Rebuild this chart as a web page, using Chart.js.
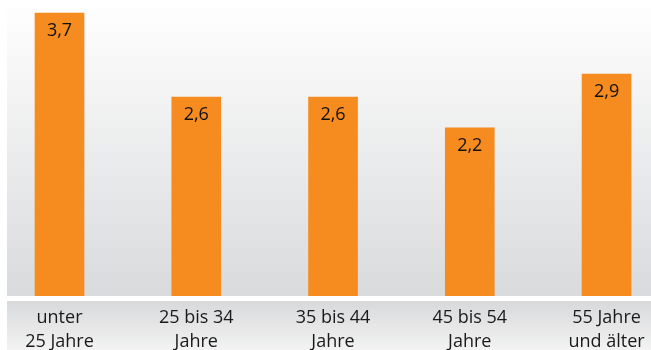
<!DOCTYPE html>
<html>
<head>
<meta charset="utf-8">
<script src="https://cdn.jsdelivr.net/npm/chart.js@4"></script>
<style>
  body { margin: 0; background: #fff; }
  canvas { display: block; }
</style>
</head>
<body>
<canvas id="grafico" width="651" height="350"></canvas>
<script>
// Daten
const kategorien = [
    ['unter', '25 Jahre'],
    ['25 bis 34', 'Jahre'],
    ['35 bis 44', 'Jahre'],
    ['45 bis 54', 'Jahre'],
    ['55 Jahre', 'und älter']
];
const werte = [3.7, 2.6, 2.6, 2.2, 2.9];

const orange = '#f68b1f';

// Hintergrund: Verlauf im Diagrammbereich und graues Band unter der Achse
const hintergrund = {
    id: 'hintergrund',
    beforeDraw(chart) {
        const { ctx, chartArea } = chart;
        ctx.save();
        let g = ctx.createLinearGradient(0, chartArea.top, 0, chartArea.bottom);
        g.addColorStop(0, '#ffffff');
        g.addColorStop(1, '#d9dadc');
        ctx.fillStyle = g;
        ctx.fillRect(chartArea.left, chartArea.top, chart.width - chartArea.left, chartArea.bottom - chartArea.top);

        const top = chartArea.bottom + 5;
        g = ctx.createLinearGradient(0, top, 0, chart.height);
        g.addColorStop(0, '#d8d9db');
        g.addColorStop(1, '#f3f3f3');
        ctx.fillStyle = g;
        ctx.fillRect(chartArea.left, top, chart.width - chartArea.left, chart.height - top);
        ctx.restore();
    }
};

// Werte in die Balken schreiben
const wertBeschriftung = {
    id: 'wertBeschriftung',
    afterDatasetsDraw(chart) {
        const { ctx } = chart;
        const meta = chart.getDatasetMeta(0);
        ctx.save();
        ctx.font = '18px "Open Sans"';
        ctx.fillStyle = '#111111';
        ctx.textAlign = 'center';
        ctx.textBaseline = 'middle';
        meta.data.forEach(function (bar, i) {
            ctx.fillText(werte[i].toFixed(1).replace('.', ','), bar.x, bar.y + 18);
        });
        ctx.restore();
    }
};

function zeichnen() {
    const ctx = document.getElementById('grafico').getContext('2d');

    const chart = new Chart(ctx, {
        type: 'bar',
        data: {
            datasets: [{
                data: werte.map((v, i) => ({ x: i, y: v })),
                backgroundColor: orange,
                borderWidth: 0,
                barThickness: 49
            }]
        },
        options: {
            responsive: false,
            animation: false,
            layout: { padding: { left: 7, right: 0, top: 0, bottom: 0 } },
            plugins: {
                legend: { display: false },
                tooltip: { enabled: false }
            },
            scales: {
                x: {
                    type: 'linear',
                    offset: false,
                    min: -0.384,
                    max: 4.325,
                    grid: { display: false, drawTicks: false },
                    border: { display: false },
                    ticks: {
                        stepSize: 1,
                        includeBounds: false,
                        autoSkip: false,
                        maxRotation: 0,
                        padding: 10,
                        color: '#1a1a1a',
                        font: { family: 'Open Sans', size: 18, lineHeight: 1.33 },
                        callback: function (value) {
                            return Number.isInteger(value) ? kategorien[value] : '';
                        }
                    },
                    afterFit: function (scale) {
                        scale.height = 54;
                        scale.paddingLeft = 0;
                        scale.paddingRight = 0;
                    }
                },
                y: {
                    display: false,
                    min: 0,
                    max: 3.87
                }
            }
        },
        plugins: [hintergrund, wertBeschriftung]
    });
}

document.fonts.load('18px "Open Sans"').then(zeichnen, zeichnen);
</script>
</body>
</html>
